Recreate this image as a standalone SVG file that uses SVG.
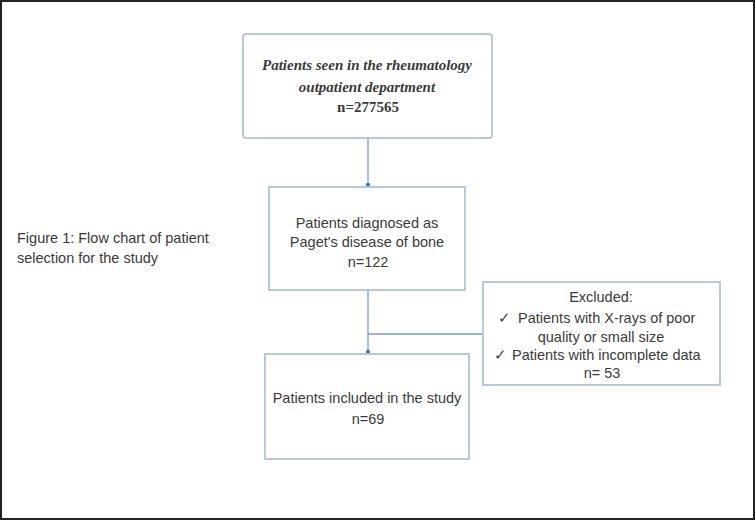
<svg xmlns="http://www.w3.org/2000/svg" width="755" height="520" viewBox="0 0 755 520">
<style>
.box{fill:#fff;stroke:#b9c9da;stroke-width:2}
.t{font-family:"Liberation Sans",Arial,sans-serif;font-size:14.5px;fill:#3a3a3a;text-anchor:middle}
.l{text-anchor:start}
.s{font-family:"Liberation Serif","Times New Roman",serif;font-size:15px;font-weight:bold;fill:#3a3a3a;text-anchor:middle;font-style:italic}
.c{stroke:#7d9bd0;stroke-width:1.3;fill:none}
</style>
<defs>
<marker id="dot" markerWidth="6" markerHeight="6" refX="3" refY="3" markerUnits="userSpaceOnUse"><circle cx="3" cy="3" r="2.2" fill="#4a72c4"/></marker>
</defs>
<rect x="1" y="1" width="753" height="518" fill="#fff" stroke="#222" stroke-width="2"/>
<g id="connectors">
<line class="c" x1="368" y1="138" x2="368" y2="185" marker-end="url(#dot)"/>
<line class="c" x1="368" y1="291" x2="368" y2="352" marker-end="url(#dot)"/>
<line class="c" x1="368" y1="334" x2="483" y2="334"/>
</g>
<g id="n1">
<rect class="box" x="243" y="34" width="249" height="104" rx="3"/>
<text class="s" x="367" y="70">Patients seen in the rheumatology</text>
<text class="s" x="367" y="92">outpatient department</text>
<text class="s" x="368" y="112" style="font-style:normal">n=277565</text>
</g>
<g id="n2">
<rect class="box" x="269" y="187" width="196" height="103"/>
<text class="t" x="367" y="228">Patients diagnosed as</text>
<text class="t" x="367" y="247">Paget's disease of bone</text>
<text class="t" x="368" y="267">n=122</text>
</g>
<g id="n3">
<rect class="box" x="265" y="354" width="204" height="105"/>
<text class="t" x="367" y="403">Patients included in the study</text>
<text class="t" x="368" y="424">n=69</text>
</g>
<g id="n4">
<rect class="box" x="483" y="282" width="237" height="103"/>
<text class="t" x="601" y="302">Excluded:</text>
<text class="t l" x="498" y="323">✓</text>
<text class="t l" x="518" y="323">Patients with X-rays of poor</text>
<text class="t" x="601" y="342">quality or small size</text>
<text class="t l" x="494" y="360">✓</text>
<text class="t l" x="512" y="360">Patients with incomplete data</text>
<text class="t" x="602" y="378">n= 53</text>
</g>
<g id="caption">
<text class="t l" x="17" y="243">Figure 1: Flow chart of patient</text>
<text class="t l" x="17" y="263">selection for the study</text>
</g>
</svg>
